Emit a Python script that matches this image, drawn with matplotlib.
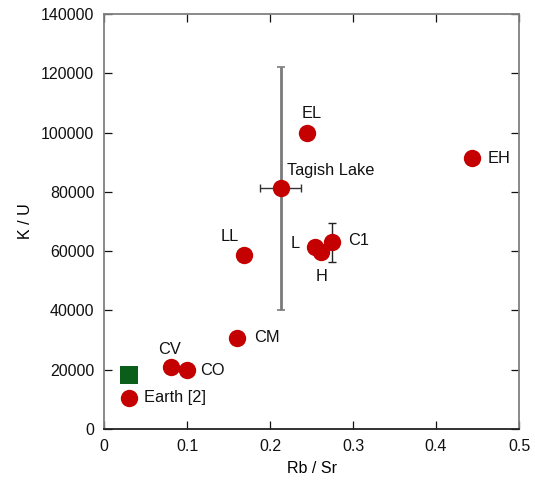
import matplotlib
matplotlib.use("Agg")
import matplotlib.pyplot as plt

plt.rcParams['font.family'] = ['Liberation Sans', 'DejaVu Sans']

labels = ["EL", "Tagish Lake", "EH", "LL", "L", "H", "C1", "CM", "CV", "CO", "Earth [2]"]
rb_sr = [0.245, 0.213, 0.443, 0.169, 0.254, 0.261, 0.275, 0.160, 0.081, 0.100, 0.030]
k_u = [100000, 81300, 91400, 58700, 61400, 59700, 63100, 30700, 20900, 19900, 10500]

tagish_xerr = [[0.025], [0.024]]
tagish_yerr = [[41200], [40800]]
c1_yerr = [[6800], [6400]]

square_x = [0.030]
square_y = [18200]

# label offsets in pixels (dx, dy, ha)
offsets = {
    "EL": (4, 19, "center"),
    "Tagish Lake": (6, 17, "left"),
    "EH": (16, 0, "left"),
    "LL": (-15, 18, "center"),
    "L": (-20, 3, "center"),
    "H": (1, -24, "center"),
    "C1": (16, 1, "left"),
    "CM": (17, 0, "left"),
    "CV": (-2, 18, "center"),
    "CO": (13, 0, "left"),
    "Earth [2]": (15, 0, "left"),
}

fig = plt.figure(figsize=(5.35, 4.8), dpi=100)
ax = fig.add_axes([0.1944, 0.10625, 0.7757, 0.8646])

red = "#c40000"
ti = labels.index("Tagish Lake")
ci = labels.index("C1")
ax.errorbar([rb_sr[ti]], [k_u[ti]], yerr=tagish_yerr, fmt='none', ecolor='#7a7a7a',
            elinewidth=2, capsize=3, capthick=1.2, zorder=2)
ax.errorbar([rb_sr[ti]], [k_u[ti]], xerr=tagish_xerr, fmt='none', ecolor='#333333',
            elinewidth=1, capsize=3, capthick=1, zorder=2)
ax.errorbar([rb_sr[ci]], [k_u[ci]], yerr=c1_yerr, fmt='none', ecolor='#222222',
            elinewidth=1, capsize=3, capthick=1, zorder=2)

ax.plot(rb_sr, k_u, 'o', color=red, markersize=12.5, markeredgewidth=0, zorder=3)
ax.plot(square_x, square_y, 's', color='#0b5e1a', markersize=12.5, markeredgewidth=0, zorder=3)

for lab, x, y in zip(labels, rb_sr, k_u):
    dx, dy, ha = offsets[lab]
    ax.annotate(lab, (x, y), xytext=(dx, dy), textcoords='offset pixels',
                ha=ha, va='center', fontsize=11.8, color='#111111')

ax.set_xlim(0, 0.5)
ax.set_ylim(0, 140000)
ax.set_xticks([0, 0.1, 0.2, 0.3, 0.4, 0.5])
ax.set_xticklabels(["0", "0.1", "0.2", "0.3", "0.4", "0.5"])
ax.set_yticks(range(0, 140001, 20000))
ax.set_yticklabels([str(v) for v in range(0, 140001, 20000)])
ax.tick_params(direction='in', top=True, right=True, length=6, width=0.9,
               labelsize=11.5, colors='#111111', labelcolor='#111111', pad=7)
for name, s in ax.spines.items():
    s.set_color('#808080')
    s.set_linewidth(1.3)
ax.spines['bottom'].set_color('#222222')

ax.set_xlabel("Rb / Sr", fontsize=11.5, labelpad=5)
ax.set_ylabel("K / U", fontsize=11.5, labelpad=6)

fig.savefig("out.png", dpi=100)
